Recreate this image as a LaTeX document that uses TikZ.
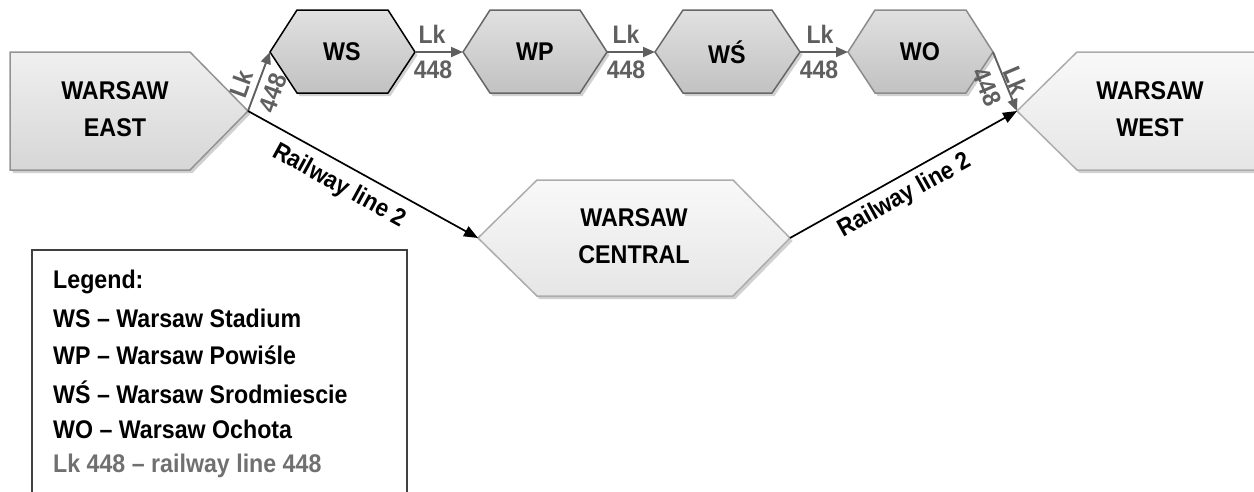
\documentclass[tikz,border=0pt]{standalone}
\usepackage{fontspec}
\setmainfont{Liberation Sans}
\usetikzlibrary{arrows.meta,shadows}
\definecolor{lkgray}{HTML}{5F5F5F}
\definecolor{leggray}{HTML}{707070}
\tikzset{
  station/.style={line width=1.5pt, line join=miter,
    drop shadow={shadow xshift=2.5pt,shadow yshift=-3pt,opacity=0.18,fill=black}},
  smallst/.style={station, draw=#1, top color=gray!24, bottom color=gray!48},
  bigst/.style={station, draw=gray!85, top color=gray!12, bottom color=gray!32},
  lightst/.style={station, draw=gray!65, top color=gray!5, bottom color=gray!20},
  tall/.style={yscale=1.1, transform shape},
  stxt/.style={tall, font=\fontsize{23.3}{34}\selectfont\bfseries, align=center, inner sep=0pt},
  lkarrow/.style={draw=lkgray, line width=1.9pt, -{Triangle[length=12pt,width=10pt]}, color=lkgray},
  rlarrow/.style={draw=black, line width=1.7pt, -{Triangle[length=14pt,width=11pt]}},
  lktxt/.style={font=\fontsize{23}{24}\selectfont\bfseries, text=lkgray, inner sep=0pt},
  rltxt/.style={font=\fontsize{22.5}{24}\selectfont\bfseries, inner sep=0pt},
  legtxt/.style={tall, font=\fontsize{23.2}{24}\selectfont\bfseries, anchor=west, inner sep=0pt}
}
\begin{document}
\begin{tikzpicture}[x=1pt,y=-1pt]
\useasboundingbox (0,0) rectangle (1254,491);
% stations
\path[bigst] (10,52) -- (190,52) -- (248,111) -- (190,170) -- (10,170) -- cycle;
\coordinate (eastTip) at (248,111);
\node[stxt] (east) at (115,109) {WARSAW\\EAST};

\path[smallst=black] (270,52) -- (297,10) -- (388,10) -- (415,52) -- (388,93) -- (297,93) -- cycle;
\coordinate (wsL) at (270,52); \coordinate (wsR) at (415,52);
\node[stxt] (ws) at (342,52) {WS};

\path[smallst=gray!80!black] (463,52) -- (490,10) -- (580,10) -- (607,52) -- (580,93) -- (490,93) -- cycle;
\coordinate (wpL) at (463,52); \coordinate (wpR) at (607,52);
\node[stxt] (wp) at (535,52) {WP};

\path[smallst=gray!80!black] (655,52) -- (683,10) -- (772,10) -- (800,52) -- (772,93) -- (683,93) -- cycle;
\coordinate (wsaL) at (655,52); \coordinate (wsaR) at (800,52);
\node[stxt] (wsa) at (727,52) {WŚ};

\path[smallst=gray!90] (848,52) -- (875,10) -- (966,10) -- (993,52) -- (966,93) -- (875,93) -- cycle;
\coordinate (woL) at (848,52); \coordinate (woR) at (993,52);
\node[stxt] (wo) at (920,52) {WO};

\path[lightst] (1017,111) -- (1077,52) -- (1262,52) -- (1262,170) -- (1077,170) -- cycle;
\coordinate (westTip) at (1017,111);
\node[stxt] (west) at (1150,109) {WARSAW\\WEST};

\path[lightst] (478,238) -- (537,180) -- (733,180) -- (790,238) -- (733,296) -- (537,296) -- cycle;
\coordinate (centralL) at (478,238); \coordinate (centralR) at (790,238);
\node[stxt] (central) at (634,236) {WARSAW\\CENTRAL};

% Lk 448 connectors
\draw[lkarrow] (eastTip) -- (wsL);
\node[lktxt, rotate=70, tall] (lk1a) at (241,84) {Lk};
\node[lktxt, rotate=70, tall] (lk1b) at (273,93) {448};

\draw[lkarrow] (wsR) -- (wpL);
\node[lktxt, tall] (lk2a) at (432,34) {Lk};
\node[lktxt, tall] (lk2b) at (433,70) {448};

\draw[lkarrow] (wpR) -- (wsaL);
\node[lktxt, tall] (lk3a) at (626,34) {Lk};
\node[lktxt, tall] (lk3b) at (626,70) {448};

\draw[lkarrow] (wsaR) -- (woL);
\node[lktxt, tall] (lk4a) at (820,34) {Lk};
\node[lktxt, tall] (lk4b) at (819,70) {448};

\draw[lkarrow] (woR) -- (westTip);
\node[lktxt, rotate=-67, tall] (lk5a) at (1016,80) {Lk};
\node[lktxt, rotate=-67, tall] (lk5b) at (987,87) {448};

% Railway line 2 connectors
\draw[rlarrow] (eastTip) -- (centralL);
\node[rltxt, rotate=-28.7, tall] (rl1) at (339,186) {Railway line 2};
\draw[rlarrow] (centralR) -- (westTip);
\node[rltxt, rotate=29, tall] (rl2) at (905,196) {Railway line 2};

% legend
\draw[line width=1.2pt, draw=black!75] (32,500) -- (32,250) -- (407,250) -- (407,500);
\node[legtxt] (l0) at (53,282) {Legend:};
\node[legtxt] (l1) at (53,318) {WS – Warsaw Stadium};
\node[legtxt] (l2) at (53,355) {WP – Warsaw Powiśle};
\node[legtxt] (l3) at (53,392) {WŚ – Warsaw Srodmiescie};
\node[legtxt] (l4) at (53,429) {WO – Warsaw Ochota};
\node[legtxt, text=leggray] (l5) at (53,466) {Lk 448 – railway line 448};
\end{tikzpicture}
\end{document}
